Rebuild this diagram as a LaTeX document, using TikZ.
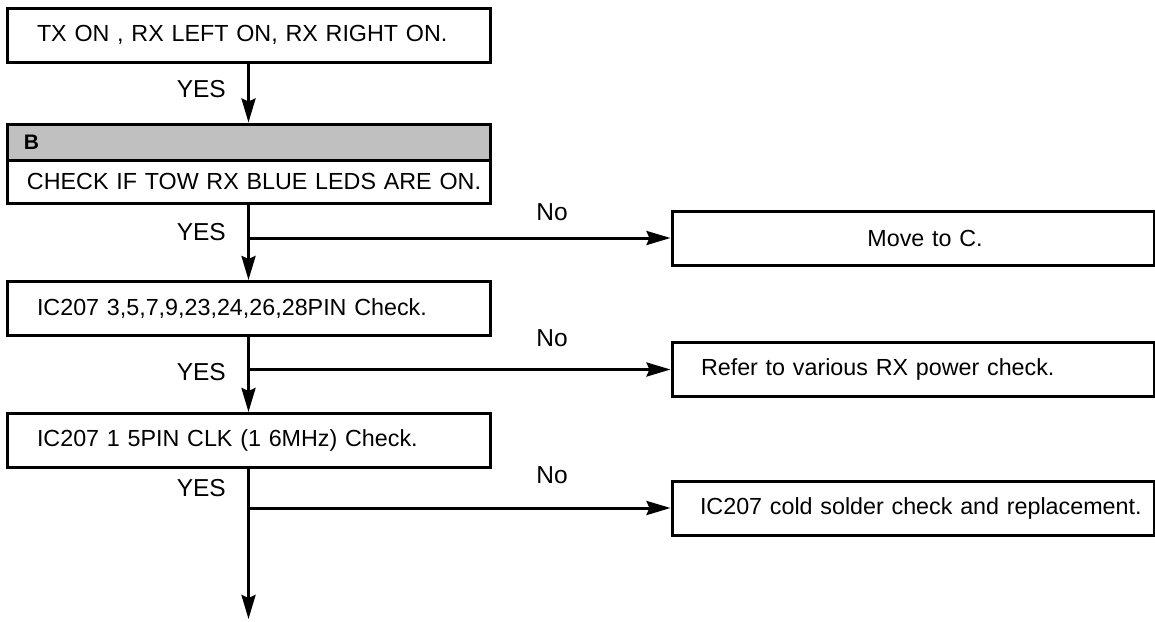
\documentclass[tikz,border=0pt]{standalone}
\usepackage{fontspec}
\setmainfont{Liberation Sans}
\usetikzlibrary{arrows.meta}
\definecolor{bandgray}{RGB}{192,192,192}
\tikzset{
 chkbox/.style={draw,line width=3pt,fill=white,minimum height=54pt,text width=483pt,inner xsep=0pt,inner ysep=0pt,align=left,font=\fontsize{23.3}{28}\selectfont,execute at begin node={\hspace*{#1}}},
 bandbox/.style={draw,line width=3pt,fill=bandgray,minimum height=36pt,text width=483pt,inner xsep=0pt,inner ysep=0pt,align=left,font=\fontsize{21}{24}\selectfont\bfseries,execute at begin node={\hspace*{17pt}}},
 sidebox/.style={draw,line width=3pt,minimum height=54pt,text width=482pt,inner xsep=0pt,inner ysep=0pt,align=center,font=\fontsize{23.3}{28}\selectfont},
 answer/.style={inner sep=0pt,font=\fontsize{24.5}{28}\selectfont},
 flow/.style={line width=3pt,-{Stealth[length=24pt,width=14pt,inset=3pt]}}
}
\begin{document}
\begin{tikzpicture}[x=1pt,y=-1pt]
\useasboundingbox (0,0) rectangle (1155,621);
% left column
\node[chkbox=30pt] (txon) at (248.5,35) {TX ON , RX LEFT ON, RX RIGHT ON.};
\node[bandbox] (bhead) at (248.5,142) {B};
\node[chkbox=20pt,minimum height=43pt] (blue) at (248.5,181.5) {\mbox{CHECK IF TOW RX BLUE LEDS ARE ON.}};
\node[chkbox=30pt] (pins) at (248.5,308.5) {IC207 3,5,7,9,23,24,26,28PIN Check.};
\node[chkbox=30pt] (clk) at (248.5,440.5) {IC207 1 5PIN CLK (1 6MHz) Check.};
\coordinate (tail) at (248.5,619);
% right column
\node[sidebox] (movec) at (913,238) {\hspace*{24pt}Move to C.};
\node[chkbox=29pt,text width=482pt] (power) at (913,369.5) {Refer to various RX power check.};
\node[chkbox=28pt,text width=482pt] (cold) at (913,508) {IC207 cold solder check and replacement.};
% labels
\node[answer,anchor=east] (yes1) at (226,89) {YES};
\node[answer,anchor=east] (yes2) at (226,232) {YES};
\node[answer,anchor=east] (yes3) at (226,372) {YES};
\node[answer,anchor=east] (yes4) at (226,488) {YES};
\node[answer] (no1) at (552,212) {No};
\node[answer] (no2) at (552,338) {No};
\node[answer] (no3) at (552,475) {No};
% connectors
\draw[flow] (txon) -- (bhead);
\draw[flow] (blue) -- (pins);
\draw[flow] (blue.south |- movec) -- (movec);
\draw[flow] (pins) -- (clk);
\draw[flow] (pins.south |- power) -- (power);
\draw[flow] (clk) -- (tail);
\draw[flow] (clk.south |- cold) -- (cold);
\end{tikzpicture}
\end{document}
